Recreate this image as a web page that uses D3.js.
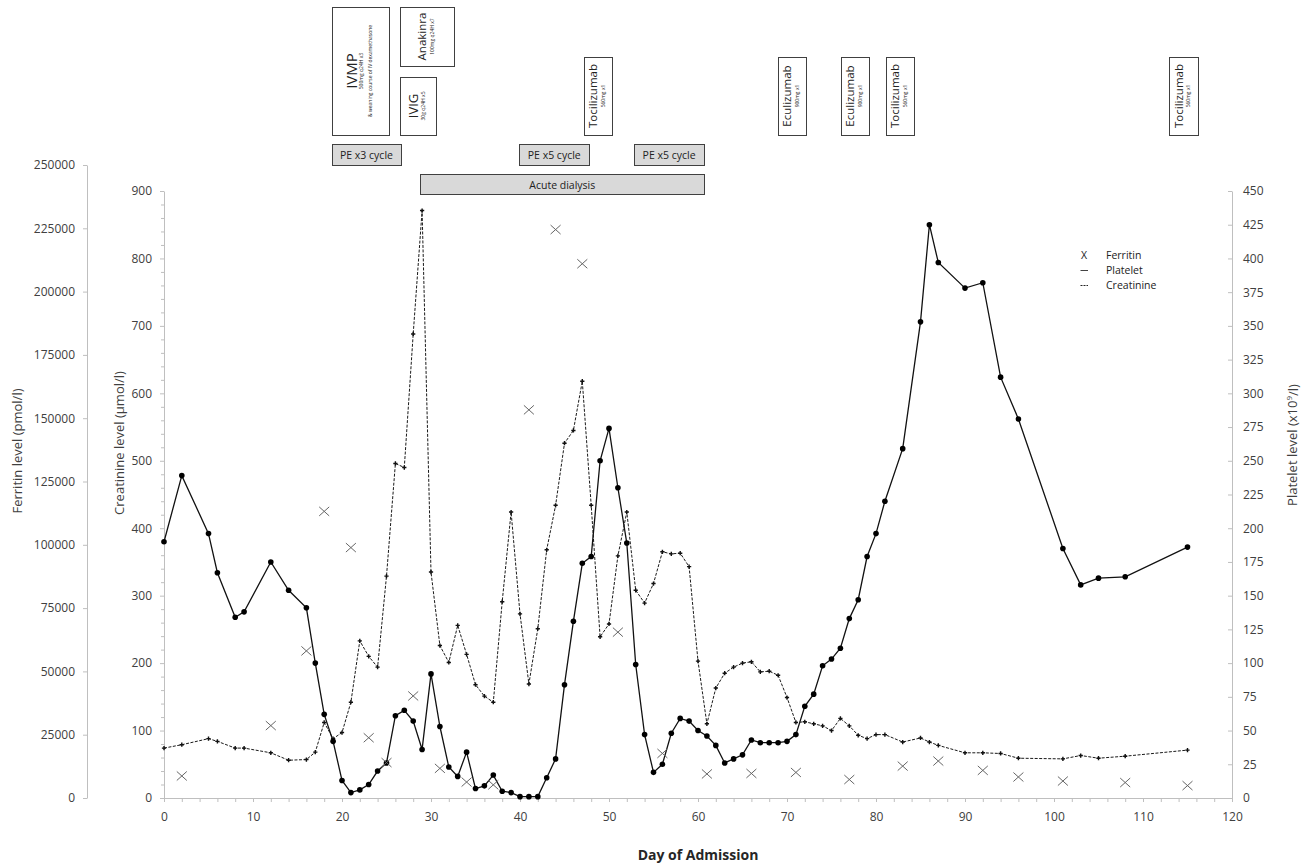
<!DOCTYPE html>
<html>
<head>
<meta charset="utf-8">
<script src="https://cdn.jsdelivr.net/npm/d3@7/dist/d3.min.js"></script>
<style>
  body { margin: 0; background: #fff; }
  svg { display: block; font-family: "Open Sans", sans-serif; }
</style>
</head>
<body>
<div id="chart"></div>
<script>
// day of admission for platelet + creatinine samples
const days = [0, 2, 5, 6, 8, 9, 12, 14, 16,
  17, 18, 19, 20, 21, 22, 23, 24, 25, 26, 27, 28, 29, 30, 31, 32, 33, 34, 35, 36, 37, 38, 39, 40,
  41, 42, 43, 44, 45, 46, 47, 48, 49, 50, 51, 52, 53, 54, 55, 56, 57, 58, 59, 60, 61, 62, 63, 64,
  65, 66, 67, 68, 69, 70, 71, 72, 73, 74, 75, 76, 77, 78, 79, 80, 81,
  83, 85, 86, 87, 90, 92, 94, 96, 101, 103, 105, 108, 115];

// x10^9/l
const platelet = [190, 239, 196, 167, 134, 138, 175, 154, 141,
  100, 62, 42, 13, 4, 6, 10, 20, 26, 61, 65, 57, 36, 92, 53, 23, 16, 34, 7, 9, 17, 5, 4, 1,
  1, 1, 15, 29, 84, 131, 174, 179, 250, 274, 230, 189, 99, 47, 19, 25, 48, 59, 57, 50, 46, 39, 26, 29,
  32, 43, 41, 41, 41, 42, 47, 68, 77, 98, 103, 111, 133, 147, 179, 196, 220,
  259, 353, 425, 397, 378, 382, 312, 281, 185, 158, 163, 164, 186];

// umol/l
const creatinine = [74, 79, 88, 84, 74, 74, 67, 56, 57,
  68, 112, 88, 97, 142, 233, 210, 194, 329, 496, 490, 688, 871, 335, 226, 201, 256, 213, 168, 151, 142, 291, 424, 273,
  169, 251, 368, 434, 526, 545, 618, 434, 239, 258, 359, 424, 308, 289, 318, 365, 362, 363, 343, 203, 110, 163, 185, 194,
  200, 202, 187, 188, 182, 149, 112, 113, 110, 107, 100, 118, 107, 93, 88, 94, 94,
  83, 89, 83, 78, 67, 67, 66, 59, 58, 63, 59, 62, 71];

// pmol/l
const ferritinDays = [2, 12, 16, 18, 21, 23, 25, 28, 31, 34, 37, 41, 44, 47, 51, 56, 61, 66, 71, 77, 83, 87, 92, 96, 101, 108, 115];
const ferritin = [8700, 28600, 58100, 113200, 98900, 23800, 14000, 40300, 11700, 6300, 5200, 153300, 224500, 211000, 65500,
  17600, 9500, 9700, 10100, 7300, 12600, 14600, 10900, 8300, 6700, 6100, 4900];

const dayTicks = [0, 10, 20, 30, 40, 50, 60, 70, 80, 90, 100, 110, 120];
const ferritinTicks = [0, 25000, 50000, 75000, 100000, 125000, 150000, 175000, 200000, 225000, 250000];
const creatinineTicks = [0, 100, 200, 300, 400, 500, 600, 700, 800, 900];
const plateletTicks = [0, 25, 50, 75, 100, 125, 150, 175, 200, 225, 250, 275, 300, 325, 350, 375, 400, 425, 450];

// treatments given, by day range
const treatments = [
  {label: "IVMP", dose: ["500mg q24H x3", "& weaning course of IV dexamethasone"], start: 18.9, end: 25.3, slot: "full"},
  {label: "Anakinra", dose: ["100mg q24H x7"], start: 26.5, end: 32.6, slot: "upper"},
  {label: "IVIG", dose: ["30g q24H x5"], start: 26.5, end: 30.6, slot: "lower"},
  {label: "Tocilizumab", dose: ["560mg x1"], start: 47.2, end: 50.4, slot: "short"},
  {label: "Eculizumab", dose: ["900mg x1"], start: 69, end: 72.1, slot: "short"},
  {label: "Eculizumab", dose: ["900mg x1"], start: 76.1, end: 79.2, slot: "short"},
  {label: "Tocilizumab", dose: ["560mg x1"], start: 81.1, end: 84.3, slot: "short"},
  {label: "Tocilizumab", dose: ["560mg x1"], start: 112.9, end: 116.2, slot: "short"}
];

const cycles = [
  {label: "PE x3 cycle", start: 18.9, end: 26.6, row: 0},
  {label: "PE x5 cycle", start: 39.9, end: 47.8, row: 0},
  {label: "PE x5 cycle", start: 52.8, end: 60.7, row: 0},
  {label: "Acute dialysis", start: 28.8, end: 60.7, row: 1}
];

const legendItems = ["Ferritin", "Platelet", "Creatinine"];

const width = 1303;
const height = 865;
const axisGrey = "#bfbfbf";
const textGrey = "#404040";

const svg = d3.select("#chart").append("svg")
    .attr("width", width)
    .attr("height", height);

const x = d3.scaleLinear().domain([0, 120]).range([164, 1232]);
const yCreat = d3.scaleLinear().domain([0, 900]).range([798, 191]);
const yPlt = d3.scaleLinear().domain([0, 450]).range([798, 191]);
const yFer = d3.scaleLinear().domain([0, 250000]).range([798, 165]);

function styleAxis(g) {
  g.attr("font-family", "Open Sans").attr("font-size", 12);
  g.select(".domain").attr("stroke", axisGrey);
  g.selectAll(".tick line").attr("stroke", axisGrey);
  g.selectAll(".tick text").attr("fill", textGrey);
}

// ferritin axis (far left)
svg.append("g")
    .attr("transform", "translate(87,0)")
    .call(d3.axisLeft(yFer).tickValues(ferritinTicks).tickFormat(d3.format("d"))
      .tickSize(4).tickSizeOuter(0).tickPadding(8))
    .call(styleAxis);

// creatinine axis, with minor ticks every 20
svg.append("g")
    .attr("transform", "translate(164,0)")
    .call(d3.axisLeft(yCreat).tickValues(d3.range(0, 901, 20).filter(v => v % 100 !== 0))
      .tickFormat("").tickSize(3).tickSizeOuter(0))
    .call(styleAxis)
    .call(g => g.select(".domain").remove());
svg.append("g")
    .attr("transform", "translate(164,0)")
    .call(d3.axisLeft(yCreat).tickValues(creatinineTicks).tickSize(4).tickSizeOuter(0).tickPadding(8))
    .call(styleAxis);

// platelet axis (right), ticks point inwards
svg.append("g")
    .attr("transform", "translate(1232,0)")
    .call(d3.axisRight(yPlt).tickValues(plateletTicks).tickSize(-4).tickSizeOuter(0).tickPadding(11))
    .call(styleAxis);

// day axis
svg.append("g")
    .attr("transform", "translate(0,798)")
    .call(d3.axisBottom(x).tickValues(d3.range(0, 121, 2)).tickFormat("").tickSize(4).tickSizeOuter(0))
    .call(styleAxis);
svg.append("g")
    .attr("transform", "translate(0,798)")
    .call(d3.axisBottom(x).tickValues(dayTicks).tickSize(4).tickSizeOuter(0).tickPadding(10))
    .call(styleAxis)
    .call(g => g.select(".domain").remove());

// axis titles
svg.append("text")
    .attr("transform", "translate(17,451) rotate(-90)")
    .attr("text-anchor", "middle").attr("dy", "0.35em")
    .attr("font-size", 13).attr("fill", textGrey)
    .text("Ferritin level (pmol/l)");
svg.append("text")
    .attr("transform", "translate(119,443) rotate(-90)")
    .attr("text-anchor", "middle").attr("dy", "0.35em")
    .attr("font-size", 13).attr("fill", textGrey)
    .text("Creatinine level (µmol/l)");
const pltTitle = svg.append("text")
    .attr("transform", "translate(1292,445) rotate(-90)")
    .attr("text-anchor", "middle").attr("dy", "0.35em")
    .attr("font-size", 13).attr("fill", textGrey);
pltTitle.append("tspan").text("Platelet level (x10");
pltTitle.append("tspan").attr("font-size", 8).attr("dy", "-0.6em").text("9");
pltTitle.append("tspan").attr("dy", "0.5em").text("/l)");
svg.append("text")
    .attr("x", 698).attr("y", 860)
    .attr("text-anchor", "middle")
    .attr("font-size", 14).attr("font-weight", "bold").attr("fill", "#262626")
    .text("Day of Admission");

// data
const rows = days.map((d, i) => ({day: d, plt: platelet[i], cr: creatinine[i]}));

svg.append("path")
    .datum(rows)
    .attr("fill", "none")
    .attr("stroke", "#1a1a1a")
    .attr("stroke-width", 1)
    .attr("stroke-dasharray", "3,1.5")
    .attr("d", d3.line().x(d => x(d.day)).y(d => yCreat(d.cr)));

svg.append("path")
    .datum(rows)
    .attr("fill", "none")
    .attr("stroke", "#111")
    .attr("stroke-width", 1.3)
    .attr("d", d3.line().x(d => x(d.day)).y(d => yPlt(d.plt)));

svg.append("g")
  .selectAll("path")
  .data(rows)
  .join("path")
    .attr("transform", d => `translate(${x(d.day)},${yCreat(d.cr)})`)
    .attr("d", d3.symbol(d3.symbolCross, 10))
    .attr("fill", "#111");

svg.append("g")
  .selectAll("circle")
  .data(rows)
  .join("circle")
    .attr("cx", d => x(d.day))
    .attr("cy", d => yPlt(d.plt))
    .attr("r", 2.8)
    .attr("fill", "#000");

svg.append("g")
  .selectAll("path")
  .data(ferritinDays.map((d, i) => ({day: d, v: ferritin[i]})))
  .join("path")
    .attr("transform", d => `translate(${x(d.day)},${yFer(d.v)})`)
    .attr("d", "M-5,-4.5L5,4.5M-5,4.5L5,-4.5")
    .attr("stroke", "#666")
    .attr("stroke-width", 1)
    .attr("fill", "none");

// treatment boxes at the top
const slots = {full: [7, 135], upper: [7, 66], lower: [77, 135], short: [57, 135]};
const labelSize = {IVMP: 15, IVIG: 13};

const treat = svg.append("g")
  .selectAll("g")
  .data(treatments)
  .join("g");

treat.append("rect")
    .attr("x", d => Math.round(x(d.start)) + 0.5)
    .attr("y", d => slots[d.slot][0] + 0.5)
    .attr("width", d => Math.round(x(d.end) - x(d.start)))
    .attr("height", d => slots[d.slot][1] - slots[d.slot][0])
    .attr("fill", "#fff")
    .attr("stroke", "#404040");

treat.each(function(d) {
  const cx = (x(d.start) + x(d.end)) / 2;
  const cy = (slots[d.slot][0] + slots[d.slot][1]) / 2;
  const offsets = [0].concat(d.dose.map((t, i) => 10 + i * 9));
  const shift = offsets[offsets.length - 1] / 2;
  const g = d3.select(this).append("g")
      .attr("transform", `translate(${cx},${cy}) rotate(-90)`)
      .attr("text-anchor", "middle");
  g.append("text")
      .attr("y", -shift)
      .attr("dy", "0.36em")
      .attr("font-size", labelSize[d.label] || 11.5)
      .attr("fill", "#222")
      .text(d.label);
  g.selectAll(".dose")
    .data(d.dose)
    .join("text")
      .attr("class", "dose")
      .attr("y", (t, i) => offsets[i + 1] - shift)
      .attr("dy", "0.36em")
      .attr("font-size", 5)
      .attr("fill", "#222")
      .text(t => t);
});

// plasma exchange / dialysis bars
const rowY = [[144, 165], [174, 194]];
const cyc = svg.append("g")
  .selectAll("g")
  .data(cycles)
  .join("g");
cyc.append("rect")
    .attr("x", d => Math.round(x(d.start)) + 0.5)
    .attr("y", d => rowY[d.row][0] + 0.5)
    .attr("width", d => Math.round(x(d.end) - x(d.start)))
    .attr("height", d => rowY[d.row][1] - rowY[d.row][0])
    .attr("fill", "#d9d9d9")
    .attr("stroke", "#404040");
cyc.append("text")
    .attr("x", d => (x(d.start) + x(d.end)) / 2)
    .attr("y", d => (rowY[d.row][0] + rowY[d.row][1]) / 2 + 1)
    .attr("dy", "0.35em")
    .attr("text-anchor", "middle")
    .attr("font-size", 10.5)
    .attr("fill", "#222")
    .text(d => d.label);

// legend
const legend = svg.append("g")
    .attr("transform", "translate(1084,255)")
    .attr("font-size", 10.5)
    .attr("fill", "#222");
legend.selectAll("text.name")
  .data(legendItems)
  .join("text")
    .attr("class", "name")
    .attr("x", 22)
    .attr("y", (d, i) => i * 15)
    .attr("dy", "0.35em")
    .text(d => d);
legend.append("text")
    .attr("x", 0).attr("y", 0).attr("dy", "0.35em")
    .attr("text-anchor", "middle")
    .text("X");
legend.append("line")
    .attr("x1", -3.5).attr("x2", 4).attr("y1", 15.5).attr("y2", 15.5)
    .attr("stroke", "#444").attr("stroke-width", 1);
legend.append("line")
    .attr("x1", -3.5).attr("x2", 4).attr("y1", 30.5).attr("y2", 30.5)
    .attr("stroke", "#222").attr("stroke-width", 1).attr("stroke-dasharray", "2,1");
</script>
</body>
</html>
